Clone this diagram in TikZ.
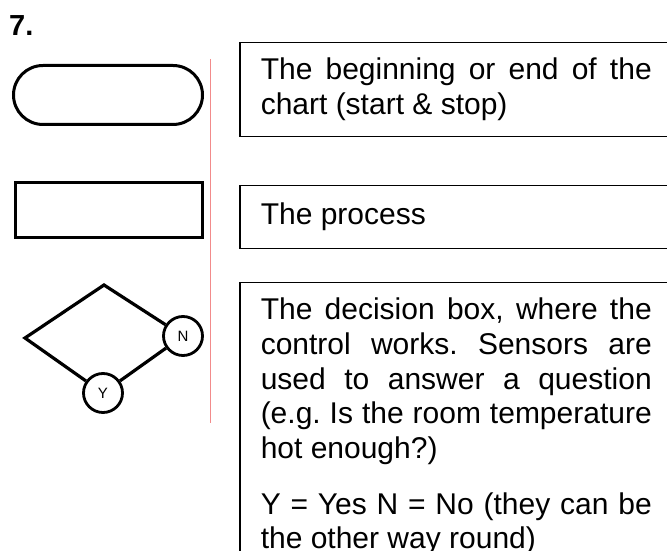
\documentclass[tikz,border=0pt]{standalone}
\usepackage{fontspec}
\setmainfont{Liberation Sans}
\usetikzlibrary{shapes.misc}
\definecolor{fcRed}{HTML}{F28B8B}
\newcommand\fcbody{\fontsize{30bp}{34.7bp}\selectfont}
\tikzset{
  fc symbol/.style={draw, line width=3bp, inner sep=0pt},
  fc yn/.style={circle, draw, line width=2.8bp, minimum size=39bp, inner sep=0pt, font=\fontsize{15bp}{16bp}\selectfont},
  fc frame/.style={draw, line width=1.5bp, anchor=north west, text width=391bp, inner xsep=21bp, inner ysep=10.7bp, align=justify, font=\fcbody},
  fc rule/.style={draw=fcRed, line width=1bp},
}
\frenchspacing

\begin{document}
\begin{tikzpicture}[x=1bp,y=1bp]
  \useasboundingbox (0,0) rectangle (667,551);
  \clip (0,0) rectangle (667,551);
  \node[anchor=base west, inner sep=0pt, font=\bfseries\fontsize{29bp}{30bp}\selectfont] (num) at (9,515) {7.};
  \node[fc symbol, rounded rectangle, minimum width=189bp, minimum height=59bp] (term) at (108,456) {};
  \node[fc symbol, rectangle, minimum width=187bp, minimum height=55bp] (proc) at (109,341) {};
  \coordinate (dleft) at (25,213);
  \coordinate (dtop) at (104,266);
  \node[fc yn] (no) at (183,215) {N};
  \node[fc yn] (yes) at (103,158) {Y};
  \draw[line width=3.2bp] (yes) -- (dleft) -- (dtop) -- (no) -- (yes);
  \coordinate (rtop) at (210,492);
  \coordinate (rbot) at (210,128);
  \draw[fc rule] (rtop) -- (rbot);
  \node[fc frame, minimum height=94bp] (startbox) at (239,509) {\strut The beginning or end of the\linebreak chart (start \& stop)\strut};
  \node[fc frame, minimum height=63bp] (procbox) at (239,366) {\strut The process\strut};
  \node[fc frame, inner ysep=12.7bp] (decbox) at (239,269) {\setlength{\parskip}{21bp}\strut The decision box, where the\linebreak control works. Sensors are\linebreak used to answer a question\linebreak (e.g. Is the room temperature\linebreak hot enough?)\par Y = Yes N = No (they can be\linebreak the other way round)\strut};
\end{tikzpicture}
\end{document}
